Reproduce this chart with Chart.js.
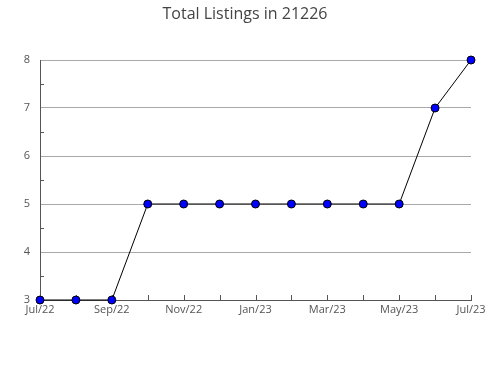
<!DOCTYPE html>
<html><head><meta charset="utf-8">
<script src="https://cdn.jsdelivr.net/npm/chart.js@4/dist/chart.umd.min.js"></script>
<style>html,body{margin:0;padding:0;background:#fff}#wrap{width:490px;height:380px}</style>
</head><body><div id="wrap"><canvas id="c" width="490" height="380"></canvas></div>
<script>
const months = ["Jul/22","Aug/22","Sep/22","Oct/22","Nov/22","Dec/22","Jan/23","Feb/23","Mar/23","Apr/23","May/23","Jun/23","Jul/23"];
const listings = [3,3,3,5,5,5,5,5,5,5,5,7,8];
const yMin = 3, yMax = 8, yStep = 0.5;
const titleText = "Total Listings in 21226";

const innerTicks = {
  id: 'innerTicks',
  beforeDatasetsDraw(chart) {
    const ctx = chart.ctx, x = chart.scales.x, y = chart.scales.y, a = chart.chartArea;
    ctx.save();
    ctx.strokeStyle = '#555'; ctx.lineWidth = 1;
    ctx.beginPath();
    for (let i = 0; i < months.length; i++) {
      const px = Math.round(x.getPixelForValue(i)) + 0.5;
      ctx.moveTo(px, a.bottom); ctx.lineTo(px, a.bottom - 5);
    }
    for (let v = yMin + yStep; v < yMax; v += 1) {
      const py = Math.round(y.getPixelForValue(v)) + 0.5;
      ctx.moveTo(a.left, py); ctx.lineTo(a.left + 4, py);
    }
    ctx.stroke();
    ctx.restore();
  }
};

new Chart(document.getElementById('c'), {
  type: 'line',
  data: { labels: months, datasets: [{
    data: listings, borderColor: '#000', borderWidth: 1,
    pointBackgroundColor: '#0000ff', pointBorderColor: '#000', pointBorderWidth: 1,
    pointRadius: 4, pointStyle: 'circle', tension: 0, clip: false
  }]},
  options: {
    responsive: false, animation: false,
    layout: { padding: { left: 19, right: 19, top: 0, bottom: 0 } },
    plugins: {
      legend: { display: false }, tooltip: { enabled: false },
      title: { display: true, text: titleText, color: '#444',
        font: { family: 'Open Sans', size: 16, weight: 'normal' },
        padding: { top: 5, bottom: 35.8 } }
    },
    scales: {
      x: {
        offset: false,
        grid: { display: false, drawTicks: false },
        border: { color: '#555' },
        ticks: { autoSkip: false, maxRotation: 0, padding: 3, color: '#555',
          font: { family: 'Open Sans', size: 11 },
          callback: (v, i) => (i % 2 === 0 ? months[i] : '') },
        afterFit: s => { s.height = 80; }
      },
      y: {
        min: yMin, max: yMax,
        grid: { drawTicks: false, color: c => (c.tick && Number.isInteger(c.tick.value) ? '#aaa' : 'rgba(0,0,0,0)') },
        border: { color: '#555' },
        ticks: { stepSize: yStep, padding: 10, color: '#555',
          font: { family: 'Open Sans', size: 11 },
          callback: v => (Number.isInteger(v) ? v : '') },
        afterFit: s => { s.width = 21; }
      }
    }
  },
  plugins: [innerTicks]
});
</script></body></html>
